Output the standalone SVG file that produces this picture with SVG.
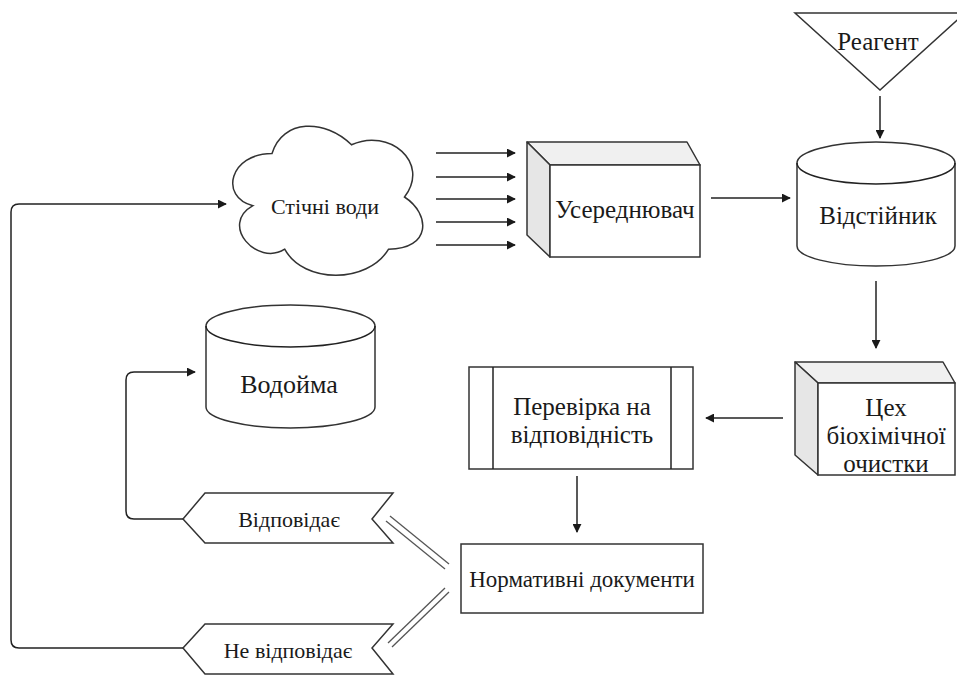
<svg xmlns="http://www.w3.org/2000/svg" width="957" height="675" viewBox="0 0 957 675">
  <defs>
    <marker id="arrow" viewBox="0 0 10 10" refX="9" refY="5" markerWidth="9" markerHeight="9" markerUnits="userSpaceOnUse" orient="auto">
      <path d="M0,0 L10,5 L0,10 Z" fill="#1a1a1a"/>
    </marker>
    <style>
      .shape { fill: #ffffff; stroke: #333333; stroke-width: 1.5; }
      .side { fill: #e6e6e6; stroke: #333333; stroke-width: 1.5; stroke-linejoin: round; }
      .top { fill: #f0f0f0; stroke: #333333; stroke-width: 1.5; stroke-linejoin: round; }
      .line { fill: none; stroke: #222222; stroke-width: 1.5; }
      .flow { fill: none; stroke: #222222; stroke-width: 1.5; marker-end: url(#arrow); }
      .dbl { fill: none; stroke: #555555; stroke-width: 1.3; }
      .t { font-family: "Liberation Serif", "Times New Roman", serif; fill: #1a1a1a; text-anchor: middle; }
      .big { font-size: 25px; }
      .mid { font-size: 22px; }
    </style>
  </defs>

  <!-- connectors -->
  <g id="connectors">
    <line class="flow" x1="436" y1="153" x2="515" y2="153"/>
    <line class="flow" x1="436" y1="177" x2="515" y2="177"/>
    <line class="flow" x1="436" y1="199" x2="515" y2="199"/>
    <line class="flow" x1="436" y1="222" x2="515" y2="222"/>
    <line class="flow" x1="436" y1="245" x2="515" y2="245"/>
    <line class="flow" x1="711" y1="198" x2="790" y2="198"/>
    <line class="flow" x1="880" y1="96" x2="880" y2="138"/>
    <line class="flow" x1="876" y1="281" x2="876" y2="348"/>
    <line class="flow" x1="783" y1="418" x2="706" y2="418"/>
    <line class="flow" x1="577" y1="476" x2="577" y2="532"/>
    <path class="flow" d="M183,519 H134 Q126,519 126,511 V380 Q126,372 134,372 H195"/>
    <path class="flow" d="M183,648 H19 Q11,648 11,640 V212 Q11,204 19,204 H226"/>
    <!-- double links to the standards box -->
    <line class="dbl" x1="386" y1="521" x2="445" y2="569"/>
    <line class="dbl" x1="390" y1="516" x2="449" y2="564"/>
    <line class="dbl" x1="445" y1="588" x2="388" y2="643"/>
    <line class="dbl" x1="449" y1="592" x2="392" y2="647"/>
  </g>

  <!-- wastewater cloud -->
  <g id="wastewater">
    <path class="shape" d="M272,153.5 C229.6,153.5 219,197 252.9,205.7 C219,224.8 257.2,266.6 284.7,249.2 C303.8,284 367.4,284 388.6,249.2 C431,249.2 431,214.4 404.5,197 C431,162.2 388.6,127.4 351.5,144.8 C325,118.7 282.6,118.7 272,153.5 Z"/>
    <text class="t mid" x="325" y="214">Стічні води</text>
  </g>

  <!-- equalizer -->
  <g id="equalizer">
    <polygon class="top" points="527,142 687,142 700,165 550,165"/>
    <polygon class="side" points="527,142 550,165 550,257 527,235"/>
    <rect class="shape" x="550" y="165" width="150" height="92"/>
    <text class="t big" x="625" y="218">Усереднювач</text>
  </g>

  <!-- reagent -->
  <g id="reagent">
    <polygon class="shape" points="795,13 965,13 880,90"/>
    <text class="t big" x="878" y="50">Реагент</text>
  </g>

  <!-- settler -->
  <g id="settler">
    <path class="shape" d="M797,163 A79,21 0 0 1 955,163 V246 A79,20 0 0 1 797,246 Z"/>
    <path class="line" d="M797,163 A79,21 0 0 0 955,163"/>
    <text class="t big" x="878" y="224">Відстійник</text>
  </g>

  <!-- biochemical treatment shop -->
  <g id="biotreatment">
    <polygon class="top" points="795,362 943,362 955,383 818,383"/>
    <polygon class="side" points="795,362 818,383 818,475 795,455"/>
    <rect class="shape" x="818" y="383" width="137" height="92"/>
    <text class="t big" x="886" y="416">Цех</text>
    <text class="t big" x="886" y="444">біохімічної</text>
    <text class="t big" x="886" y="472">очистки</text>
  </g>

  <!-- compliance check -->
  <g id="check">
    <rect class="shape" x="469" y="367" width="224" height="102"/>
    <line class="line" x1="493" y1="367" x2="493" y2="469"/>
    <line class="line" x1="671" y1="367" x2="671" y2="469"/>
    <text class="t big" x="582" y="415">Перевірка на</text>
    <text class="t big" x="582" y="443">відповідність</text>
  </g>

  <!-- regulatory documents -->
  <g id="standards">
    <rect class="shape" x="461" y="544" width="242" height="69"/>
    <text class="t" x="582" y="587" font-size="23">Нормативні документи</text>
  </g>

  <!-- water body -->
  <g id="waterbody">
    <path class="shape" d="M206,326 A84.5,21 0 0 1 375,326 V407 A84.5,21 0 0 1 206,407 Z"/>
    <path class="line" d="M206,326 A84.5,21 0 0 0 375,326"/>
    <text class="t" x="289" y="393" font-size="26">Водойма</text>
  </g>

  <!-- complies -->
  <g id="complies">
    <path class="shape" d="M205,493 H393 L372,519 L393,543 H205 L183,519 Z"/>
    <text class="t mid" x="289" y="527">Відповідає</text>
  </g>

  <!-- does not comply -->
  <g id="not-complies">
    <path class="shape" d="M205,624 H393 L372,648 L393,674 H205 L183,648 Z"/>
    <text class="t mid" x="288" y="658">Не відповідає</text>
  </g>
</svg>
